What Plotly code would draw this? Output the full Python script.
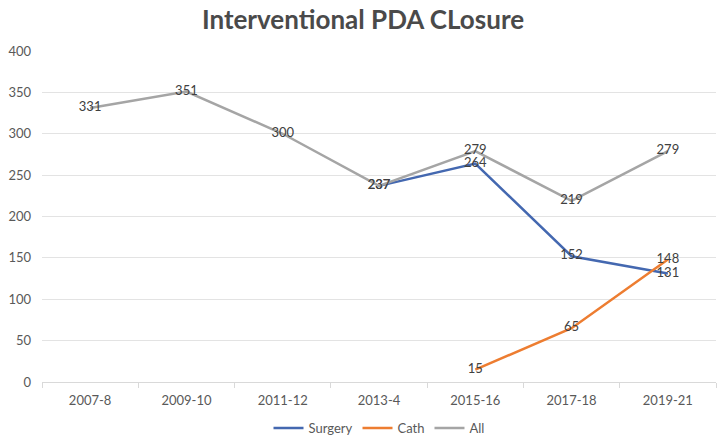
import plotly.graph_objects as go

# values
periods = ["2007-8", "2009-10", "2011-12", "2013-4", "2015-16", "2017-18", "2019-21"]
surgery = [None, None, None, 237, 264, 152, 131]
cath = [None, None, None, None, 15, 65, 148]
all_cases = [331, 351, 300, 237, 279, 219, 279]

y_ticks = [0, 50, 100, 150, 200, 250, 300, 350, 400]

fig = go.Figure()

series = [
    ("Surgery", surgery, "#4468b0"),
    ("Cath", cath, "#ed7d31"),
    ("All", all_cases, "#a5a5a5"),
]

# All is drawn last so it sits on top, like the source chart
for name, vals, color in series:
    fig.add_trace(go.Scatter(
        name=name,
        x=periods,
        y=vals,
        mode="lines+text",
        text=[str(v) if v is not None else "" for v in vals],
        textposition="middle center",
        textfont=dict(color="#404040", size=13, family="Lato"),
        line=dict(color=color, width=2.5),
        cliponaxis=False,
    ))

fig.update_layout(
    autosize=True,
    paper_bgcolor="white",
    plot_bgcolor="white",
    font=dict(family="Lato", color="#595959", size=13),
    title=dict(
        text="<b>Interventional PDA CLosure</b>",
        x=0.5,
        xanchor="center",
        y=0.955,
        yanchor="middle",
        font=dict(size=26, color="#4a4a4a", family="Lato"),
    ),
    margin=dict(l=42, r=10, t=51, b=61),
    showlegend=True,
    legend=dict(
        orientation="h",
        x=0.5,
        xanchor="center",
        yref="container",
        y=0.034,
        yanchor="middle",
        font=dict(size=13, color="#595959"),
        itemwidth=30,
    ),
)

fig.update_yaxes(
    range=[0, 400],
    tickvals=y_ticks,
    showgrid=True,
    gridcolor="#e3e3e3",
    gridwidth=1,
    zeroline=False,
    showline=False,
    ticks="",
    ticklabelstandoff=10,
    automargin=False,
)

# half a category of room on each side, as in the source chart
fig.update_xaxes(
    type="category",
    range=[-0.5, len(periods) - 0.5],
    showgrid=False,
    showline=True,
    linecolor="#d9d9d9",
    ticks="outside",
    tickson="boundaries",
    ticklen=5,
    tickcolor="#d9d9d9",
    ticklabelstandoff=6,
    automargin=False,
)

# fill the window exactly: no page margin, no scrollbars
fill_page = """
document.documentElement.style.margin='0';
document.body.style.margin='0';
document.body.style.overflow='hidden';
var gd = document.getElementById('{plot_id}');
Plotly.Plots.resize(gd);
"""

fig.write_html(
    "out.html",
    config={"displayModeBar": False, "responsive": True},
    default_width="100vw",
    default_height="100vh",
    post_script=fill_page,
)
